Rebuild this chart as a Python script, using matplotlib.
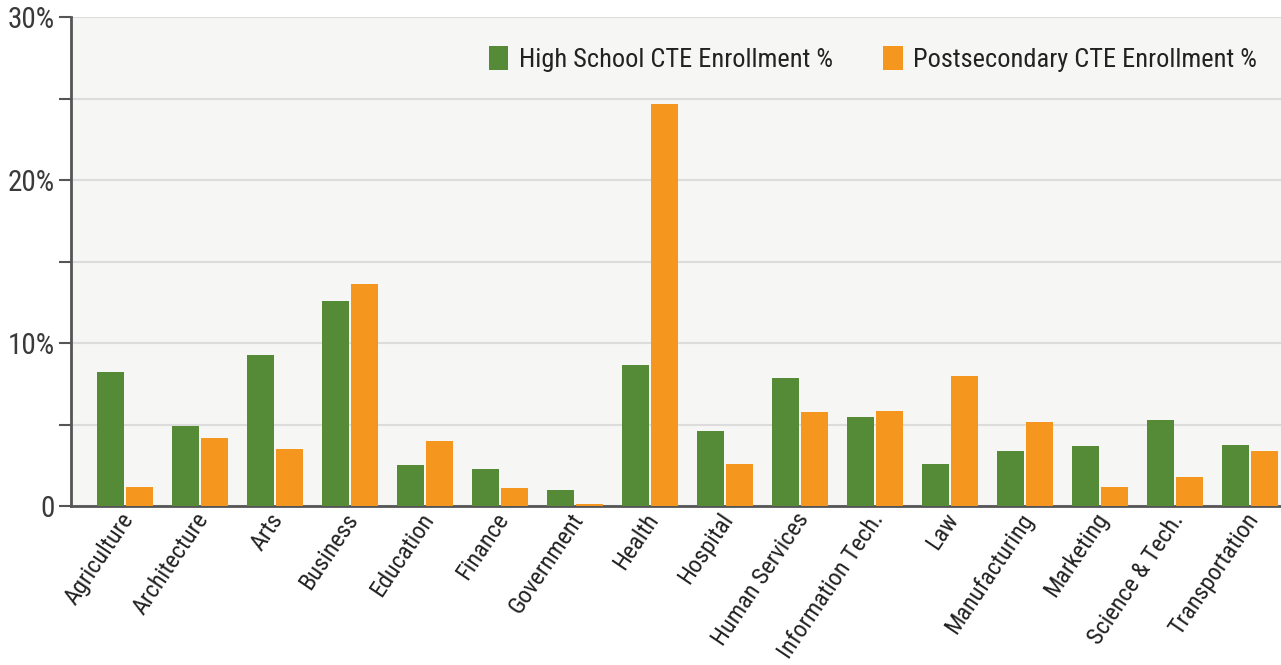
import matplotlib
matplotlib.use("Agg")
import matplotlib.pyplot as plt
import matplotlib.transforms as mtransforms
import numpy as np
from matplotlib.ticker import FixedLocator, FuncFormatter

categories = ["Agriculture", "Architecture", "Arts", "Business", "Education", "Finance",
              "Government", "Health", "Hospital", "Human Services", "Information Tech.",
              "Law", "Manufacturing", "Marketing", "Science & Tech.", "Transportation"]
high_school = [8.2, 4.9, 9.3, 12.6, 2.5, 2.3, 1.0, 8.65, 4.6, 7.85, 5.45, 2.6, 3.4, 3.7, 5.3, 3.75]
postsecondary = [1.2, 4.2, 3.5, 13.65, 4.0, 1.1, 0.1, 24.7, 2.6, 5.75, 5.85, 8.0, 5.15, 1.2, 1.8, 3.4]
series_names = ["High School CTE Enrollment %", "Postsecondary CTE Enrollment %"]
major_ticks = [0, 10, 20, 30]
minor_ticks = [5, 15, 25]

plt.rcParams['font.family'] = ['Roboto Condensed', 'Archivo Narrow', 'IBM Plex Sans Condensed', 'DejaVu Sans']

GREEN = "#558a37"
ORANGE = "#f5961f"

fig = plt.figure(figsize=(12.81, 6.65), dpi=100)
ax = fig.add_axes([0.0555, 0.239, 0.9445, 0.735])
ax.set_facecolor("#f6f6f4")

x = np.arange(len(categories))
w = 0.36
ax.bar(x - 0.19, high_school, width=w, color=GREEN, label=series_names[0], zorder=3)
ax.bar(x + 0.19, postsecondary, width=w, color=ORANGE, label=series_names[1], zorder=3)

ax.set_xlim(-0.72, 15.41)
ax.set_ylim(0, 30)
ax.yaxis.set_major_locator(FixedLocator(major_ticks))
ax.yaxis.set_minor_locator(FixedLocator(minor_ticks))
ax.yaxis.set_major_formatter(FuncFormatter(lambda v, p: "0" if v == 0 else f"{int(v)}%"))
ax.grid(True, which="both", axis="y", color="#dcdcdc", linewidth=1.5, zorder=0)
ax.tick_params(axis="y", which="both", length=9, width=1.5, color="#555555",
               labelsize=21, labelcolor="#3a3a3a", pad=3)
ax.tick_params(axis="x", length=0, labelsize=17.5, labelcolor="#222222", pad=2)
ax.set_xticks(x)
ax.set_xticklabels(categories, rotation=56, ha="right", rotation_mode="anchor")
offset = mtransforms.ScaledTranslation(-0.06, 0.0, fig.dpi_scale_trans)
for lbl in ax.get_xticklabels():
    lbl.set_transform(lbl.get_transform() + offset)
for s in ["top", "right"]:
    ax.spines[s].set_visible(False)
for s in ["left", "bottom"]:
    ax.spines[s].set_color("#555555")
    ax.spines[s].set_linewidth(2)

ax.legend(loc="upper right", ncol=2, frameon=False, fontsize=19, handlelength=0.75,
          handleheight=1.0, handletextpad=0.4, columnspacing=1.9,
          bbox_to_anchor=(1.0, 0.99), labelcolor="#222222")

fig.savefig("out.png", dpi=100, facecolor="white")
